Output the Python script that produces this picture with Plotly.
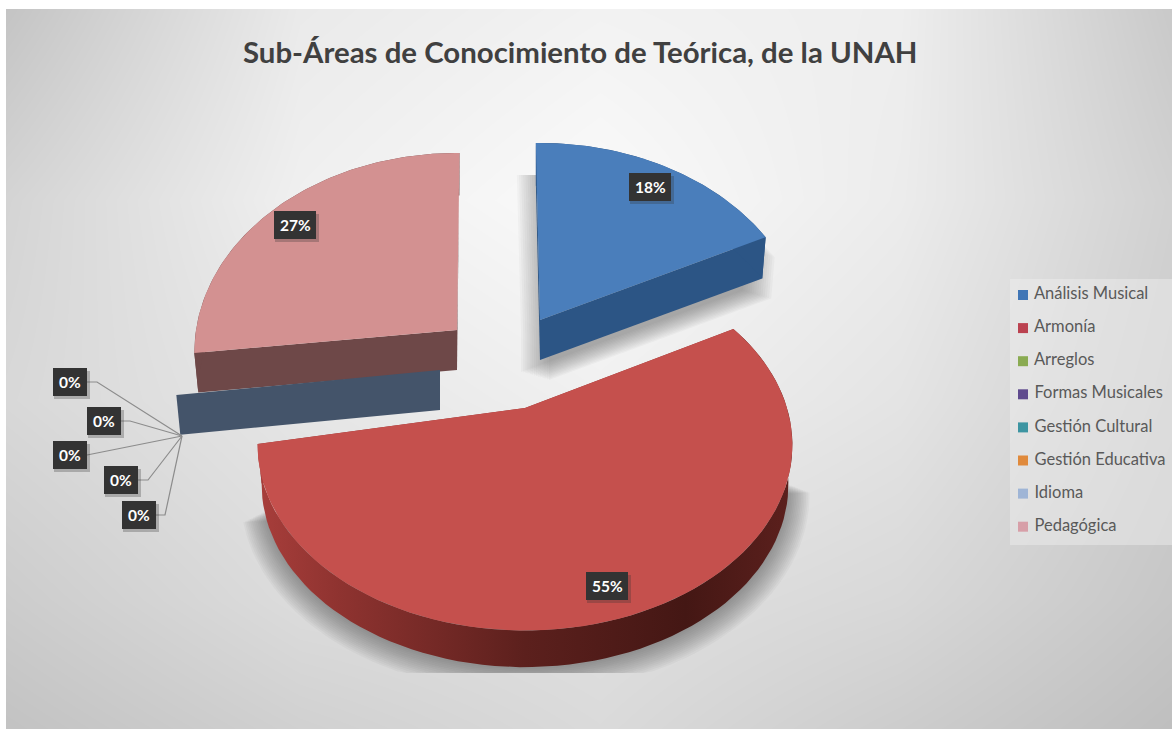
import numpy as np
import plotly.graph_objects as go

# ---- data ----
categories = ["Análisis Musical", "Armonía", "Arreglos", "Formas Musicales",
              "Gestión Cultural", "Gestión Educativa", "Idioma", "Pedagógica"]
percent = [18, 55, 0, 0, 0, 0, 0, 27]
legend_colors = ["#4076b6", "#bb4250", "#8aab52", "#5f4a8e", "#3d95a2", "#e08a3c", "#9fb5d6", "#d79fa8"]
title_text = "Sub-Áreas de Conocimiento de Teórica, de la UNAH"

# background grey levels sampled on a coarse grid
bg_x = [6, 300, 600, 900, 1180]
bg_y = [9, 200, 400, 600, 735]
bg_grey = [[196, 234, 242, 238, 200],
           [212, 240, 250, 236, 208],
           [216, 230, 240, 228, 204],
           [204, 220, 224, 216, 198],
           [194, 208, 218, 204, 190]]

# ---- styling and pseudo-3D projection ----
W, H = 1172, 729
DEPTH = 40
BOTTOM_SCALE = 0.985
# per-slice view: apex, half-width, half-height, perspective, rotation
view = {0: dict(apex=(540, 320), a=264, b=197, k=0.1127, rot=-1.0),
        1: dict(apex=(525, 408), a=262, b=178, k=0.2, rot=-4.0),
        7: dict(apex=(457, 330), a=261, b=197, k=0.1127, rot=0.6),
        "zero": dict(apex=(440, 370), a=262, b=197, k=0.1127, rot=0.0)}
top_col = {0: "#4a7ebb", 1: "#c5504d", 7: "#d39191"}
cut_col = {0: "#2c5585", 1: "#8f3330", 7: "#6e4848"}
LAYERS = 14


def rim(theta_deg, v, bottom=False):
    t = np.radians(np.asarray(theta_deg, dtype=float) + v["rot"])
    w = 1 + v["k"] * np.cos(t)
    x = v["a"] * np.sin(t) / w
    y = -v["b"] * np.cos(t) / w
    ax, ay = v["apex"]
    if bottom:
        return ax + BOTTOM_SCALE * x, ay + DEPTH + BOTTOM_SCALE * y
    return ax + x, ay + y


def poly(xs, ys, color, gradient=None):
    kw = dict(x=list(xs), y=list(ys), mode="lines", fill="toself", line=dict(width=0),
              hoverinfo="skip", showlegend=False)
    if gradient:
        kw["fillgradient"] = gradient
    else:
        kw["fillcolor"] = color
    return go.Scatter(**kw)


fig = go.Figure()
fig.add_trace(go.Heatmap(x=bg_x, y=bg_y, z=bg_grey, zmin=0, zmax=255, zsmooth="best",
                         colorscale=[[0, "#000000"], [1, "#ffffff"]], showscale=False,
                         hoverinfo="skip"))

# legend panel (drawn over the background)
fig.add_trace(poly([1010, 1172, 1172, 1010], [279, 279, 545, 545], "rgba(240,240,240,0.45)"))

# angular ranges from the values
edges = np.cumsum([0] + [p * 3.6 for p in percent])
slices = [(i, edges[i], edges[i + 1]) for i, p in enumerate(percent) if p > 0]

# soft shadow of the blue slice: wedge plus its cut face, shifted
v = view[0]
th = np.linspace(edges[0], edges[1], 70)
xt, yt = rim(th, v)
xe, ye = rim(edges[1], v, True)
xu = np.r_[v["apex"][0], xt, xe, v["apex"][0]]
yu = np.r_[v["apex"][1], yt, ye, v["apex"][1] + DEPTH]
for dx, dy in zip(np.linspace(-19, 9, LAYERS), np.linspace(12, 20, LAYERS)):
    fig.add_trace(poly(xu + dx, np.clip(yu + dy, 175, 395), "rgba(72,72,72,0.04)"))

# soft shadow of the red slice: lower rim, scaled outwards and cut at the bottom
v = view[1]
th = np.linspace(edges[1] + 40, edges[2] - 8, 90)
xb, yb = rim(th, v, True)
cx, cy = v["apex"][0], v["apex"][1] + DEPTH - 20
for s, dy in zip(np.linspace(1.0, 1.08, LAYERS), np.linspace(2, 6, LAYERS)):
    fig.add_trace(poly(cx + s * (xb - cx), np.clip(cy + s * (yb - cy) + dy, 0, 673),
                       "rgba(72,72,72,0.045)"))

# pink, zero-width group, blue, red
order = [s for s in slices if s[0] == 7] + ["zero"] + [s for s in slices if s[0] == 0] + [s for s in slices if s[0] == 1]
for item in order:
    if item == "zero":
        ang = edges[2]
        v = view["zero"]
        ax, ay = v["apex"]
        xt, yt = rim(ang, v)
        xb, yb = rim(ang, v, True)
        fig.add_trace(poly([ax, xt, xb, ax], [ay, yt, yb, ay + DEPTH], "#44546a"))
        continue
    i, a0, a1 = item
    v = view[i]
    ax, ay = v["apex"]
    th = np.linspace(a0, a1, 90)
    xt, yt = rim(th, v)
    xb, yb = rim(th, v, True)
    for ang in (a0, a1):
        xa, ya = rim(ang, v)
        xc, yc = rim(ang, v, True)
        fig.add_trace(poly([ax, xa, xc, ax], [ay, ya, yc, ay + DEPTH], cut_col[i]))
    grad = None
    if i == 1:
        grad = dict(type="horizontal", colorscale=[[0, "#a83e3b"], [0.15, "#8f3330"], [0.5, "#5c201d"],
                                                   [0.8, "#441714"], [1, "#5c201d"]])
    fig.add_trace(poly(np.r_[xt, xb[::-1]], np.r_[yt, yb[::-1]], cut_col[i], grad))
    fig.add_trace(poly(np.r_[ax, xt], np.r_[ay, yt], top_col[i]))

# leader lines of the zero labels
zero_labels = [(70, 382, 87, 97), (104, 421, 121, 130), (70, 455, 87, 87), (121, 480, 138, 148), (139, 515, 156, 165)]
for lx, ly, x0, x1 in zero_labels:
    fig.add_trace(go.Scatter(x=[x0, x1, 182], y=[ly, ly, 436], mode="lines",
                             line=dict(color="#8c8c8c", width=1.2), hoverinfo="skip", showlegend=False))

# data labels
label_pos = {0: (650, 187), 1: (607, 586), 7: (295, 225)}
boxes = [(label_pos[i], f"{percent[i]}%") for i in label_pos]
zero_idx = [i for i, p in enumerate(percent) if p == 0]
boxes += [((z[0], z[1]), f"{percent[i]}%") for z, i in zip(zero_labels, zero_idx)]
for (bx, by), txt in boxes:
    hw = 21 if len(txt) == 3 else 17
    fig.add_shape(type="rect", x0=bx - hw + 1, x1=bx + hw + 3, y0=by - 11, y1=by + 17,
                  fillcolor="rgba(50,50,50,0.28)", line_width=0, layer="above")
    fig.add_shape(type="rect", x0=bx - hw, x1=bx + hw, y0=by - 14, y1=by + 14,
                  fillcolor="#333333", line_width=0, layer="above")
    fig.add_annotation(x=bx, y=by, text=f"<b>{txt}</b>", showarrow=False,
                       font=dict(family="Lato", size=15.5, color="#ffffff"))

# legend entries
rows = 295 + np.arange(len(categories)) * 33.1
fig.add_trace(go.Scatter(x=[1023] * len(categories), y=rows, mode="markers+text",
                         marker=dict(symbol="square", size=10, color=legend_colors),
                         text=[" " + c for c in categories], textposition="middle right",
                         textfont=dict(family="Lato", size=16.5, color="#595959"),
                         hoverinfo="skip", showlegend=False, cliponaxis=False))

# white margin of the screenshot
fig.add_shape(type="rect", x0=0, x1=6, y0=0, y1=H, fillcolor="#ffffff", line_width=0, layer="above")
fig.add_shape(type="rect", x0=0, x1=W, y0=0, y1=9, fillcolor="#ffffff", line_width=0, layer="above")

fig.add_annotation(x=580, y=51, text=f"<b>{title_text}</b>", showarrow=False,
                   font=dict(family="Lato", size=29.4, color="#404040"))

fig.update_layout(width=W, height=H, margin=dict(l=0, r=0, t=0, b=0), paper_bgcolor="#ffffff",
                  plot_bgcolor="#ffffff", showlegend=False,
                  xaxis=dict(range=[0, W], visible=False, fixedrange=True),
                  yaxis=dict(range=[H, 0], visible=False, fixedrange=True))

fig.write_html("out.html", config={"displayModeBar": False},
               post_script="document.body.style.margin='0';document.body.style.overflow='hidden';")
